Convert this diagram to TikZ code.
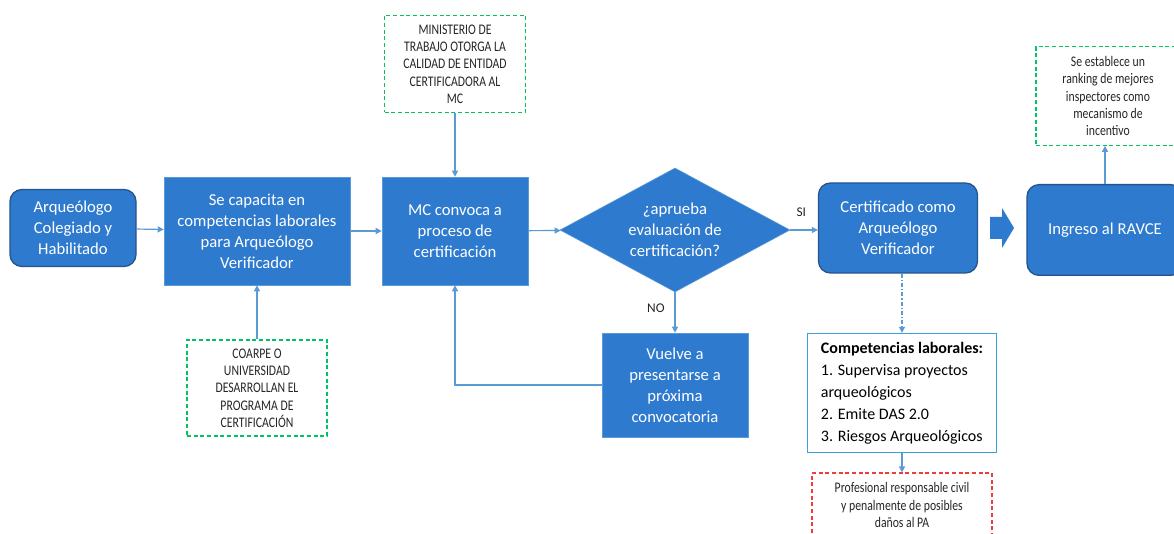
\documentclass[tikz,border=0pt]{standalone}
\usepackage{fontspec}
\setmainfont{Carlito}
\newfontfamily\condfont[FakeStretch=0.8]{Carlito}
\usetikzlibrary{shapes.geometric,arrows.meta}

\definecolor{boxblue}{RGB}{46,122,206}
\definecolor{edgeblue}{RGB}{38,84,140}
\definecolor{lineblue}{RGB}{91,155,213}
\definecolor{notegreen}{RGB}{0,196,96}
\definecolor{notered}{RGB}{240,60,60}
\definecolor{listblue}{RGB}{60,160,220}

\begin{document}
\begin{tikzpicture}
[x=0.75pt,y=-0.75pt,>={Triangle[length=4.5pt,width=4.5pt]},
box/.style={draw=lineblue,fill=boxblue,text=white,align=center,inner sep=2pt,
  font=\fontsize{12.5}{15.75}\selectfont},
rbox/.style={box,draw=edgeblue,line width=1pt,rounded corners=9pt},
note/.style={draw=notegreen,dash pattern=on 3pt off 2pt,line width=0.9pt,text=black!85,
  align=center,inner sep=2pt,font=\condfont\fontsize{11}{13}\selectfont},
flow/.style={draw=lineblue,line width=0.9pt,->},
tag/.style={font=\fontsize{10}{12}\selectfont,text=black!85},]

\clip (0,0) rectangle (1174,534);
\fill[white] (0,0) rectangle (1174,534);

%Column positions
\def\xB{257}
\def\xC{455}
\def\xQ{675}
\def\xD{902}
\def\xE{1105}

%Main row
\node (arq) at (73,228)[rbox,minimum width=94.5pt,minimum height=57.75pt]
  {Arqueólogo\\Colegiado y\\Habilitado};
\node (cap) at (\xB,231)[box,minimum width=139.5pt,minimum height=81pt]
  {Se capacita en\\competencias laborales\\para Arqueólogo\\Verificador};
\node (conv) at (\xC,231)[box,minimum width=109.5pt,minimum height=81pt]
  {MC convoca a\\proceso de\\certificación};
\node (eval) at (\xQ,230)[diamond,draw=lineblue,fill=boxblue,text=white,align=center,
  inner sep=0pt,aspect=1.85,minimum width=172.5pt,minimum height=93pt,
  font=\fontsize{12.5}{15.75}\selectfont]
  {¿aprueba\\evaluación de\\certificación?};
\node (cert) at (898,228)[rbox,minimum width=119.25pt,minimum height=67.5pt]
  {Certificado como\\Arqueólogo\\Verificador};
\node (ravce) at (\xE,230)[rbox,minimum width=117pt,minimum height=68pt]
  {Ingreso al RAVCE};

%Notes and side boxes
\node (mint) at (\xC,64)[note,minimum width=105.75pt,minimum height=72.75pt]
  {MINISTERIO DE\\TRABAJO OTORGA LA\\CALIDAD DE ENTIDAD\\CERTIFICADORA AL\\MC};
\node (coarpe) at (\xB,388)[note,minimum width=105pt,minimum height=72pt]
  {COARPE O\\UNIVERSIDAD\\DESARROLLAN EL\\PROGRAMA DE\\CERTIFICACIÓN};
\node (rank) at (1108,96)[note,minimum width=108pt,minimum height=74pt]
  {Se establece un\\ranking de mejores\\inspectores como\\mecanismo de\\incentivo};
\node (vuelve) at (\xQ,385)[box,minimum width=109.5pt,minimum height=78pt]
  {Vuelve a\\presentarse a\\próxima\\convocatoria};
\node (comp) at (\xD,393)[draw=listblue,line width=1pt,fill=white,align=left,inner sep=4pt,
  minimum width=141.75pt,minimum height=89.25pt,font=\fontsize{12}{16.5}\selectfont]
  {\textbf{Competencias laborales:}\\1. Supervisa proyectos\\arqueológicos\\2. Emite DAS 2.0\\3. Riesgos Arqueológicos};
\node (resp) at (\xD,505)[note,draw=notered,minimum width=135pt,minimum height=48pt,
  font=\condfont\fontsize{11}{13}\selectfont]
  {Profesional responsable civil\\y penalmente de posibles\\daños al PA};

%Drawing connectors
\draw[flow] (arq) -- (cap);
\draw[flow] (cap) -- (conv);
\draw[flow] (conv) -- (eval);
\draw[flow] (eval) -- node[tag,above,pos=0.4,yshift=6pt] {SI} (cert.west |- eval);
\draw[flow] (eval) -- node[tag,left,pos=0.4,xshift=-4pt] {NO} (vuelve);
\draw[flow] (vuelve.west) -| (conv.south);
\draw[flow] (mint) -- (conv);
\draw[flow] (coarpe) -- (cap);
\draw[flow] (ravce.north) -- (rank.south -| ravce);
\draw[flow,dash pattern=on 3pt off 1.5pt on 1pt off 1.5pt] (cert.south -| comp) -- (comp);
\draw[flow] (comp) -- (resp);

%Block arrow
\fill[boxblue] (990,217) -- (1002,217) -- (1002,208) -- (1014,228) -- (1002,248)
  -- (1002,239) -- (990,239) -- cycle;

\end{tikzpicture}
\end{document}
